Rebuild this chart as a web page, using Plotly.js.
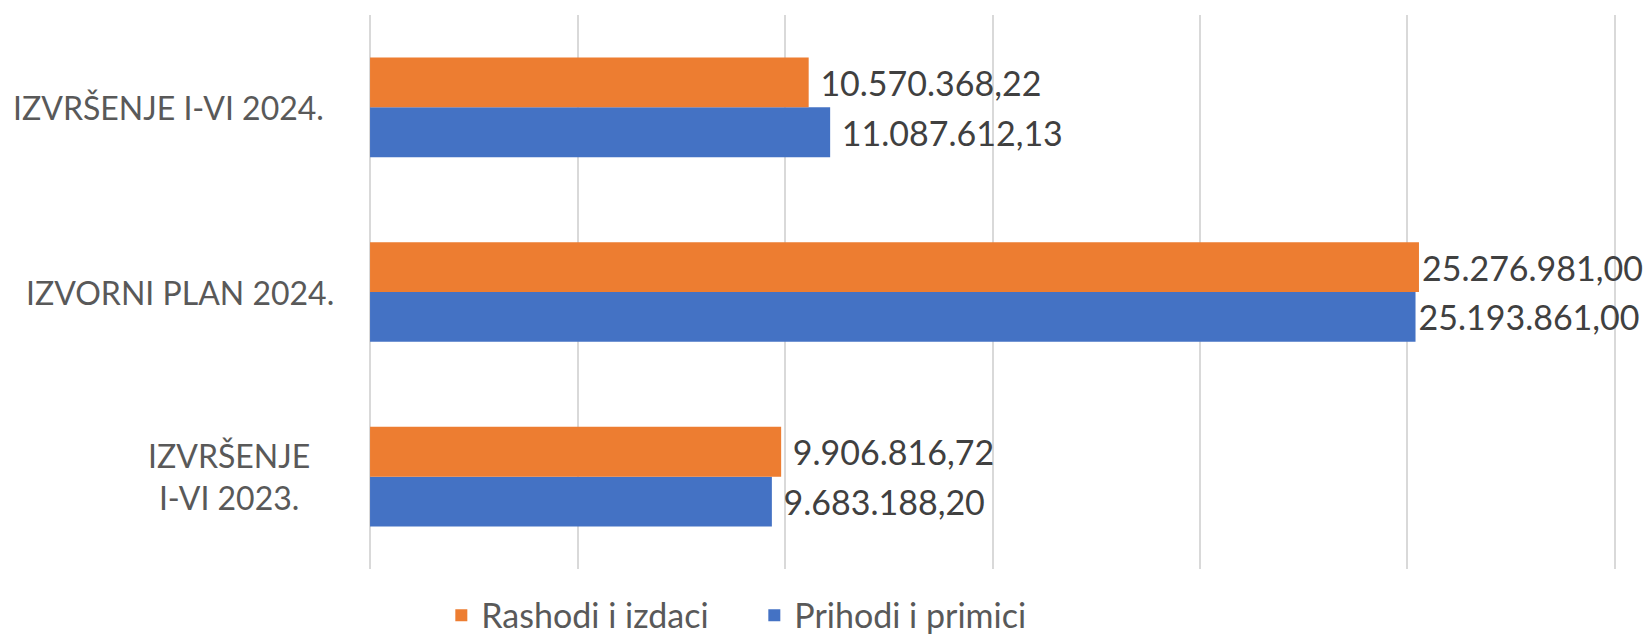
<!DOCTYPE html>
<html>
<head>
<meta charset="utf-8">
<script src="https://cdn.plot.ly/plotly-3.0.1.min.js"></script>
<style>html,body{margin:0;padding:0;background:#fff;}#chart{width:1644px;height:637px;}</style>
</head>
<body>
<div id="chart"></div>
<script>
// Categories (bottom to top as drawn)
const categories = ["IZVRŠENJE I-VI 2023.", "IZVORNI PLAN 2024.", "IZVRŠENJE I-VI 2024."];
const categoryLabels = ["IZVRŠENJE<br>I-VI 2023.", "IZVORNI PLAN 2024.", "IZVRŠENJE I-VI 2024."];
const prihodi = [9683188.20, 25193861.00, 11087612.13];
const rashodi = [9906816.72, 25276981.00, 10570368.22];
const seriesNames = ["Prihodi i primici", "Rashodi i izdaci"];

const FONT = "Lato, 'Open Sans', sans-serif";
const labelPad = [" ", "", " "];

const traces = [
  {
    type: "bar", orientation: "h", name: seriesNames[0],
    y: categories, x: prihodi,
    marker: {color: "#4472C4"},
    texttemplate: labelPad.map(p => p + "%{x:,.2f}"),
    textposition: "outside", cliponaxis: false,
    textfont: {family: FONT, size: 34, color: "#404040"},
    hoverinfo: "x"
  },
  {
    type: "bar", orientation: "h", name: seriesNames[1],
    y: categories, x: rashodi,
    marker: {color: "#ED7D31"},
    texttemplate: labelPad.map(p => p + "%{x:,.2f}"),
    textposition: "outside", cliponaxis: false,
    textfont: {family: FONT, size: 34, color: "#404040"},
    hoverinfo: "x"
  }
];

const labelX = [-0.1126, -0.1516, -0.161];
const annotations = categories.map((c, i) => ({
  xref: "paper", yref: "y", x: labelX[i], y: c,
  text: categoryLabels[i], showarrow: false,
  xanchor: "center", yanchor: "middle", align: "center",
  font: {family: FONT, size: 32, color: "#595959"}
}));

const layout = {
  width: 1644, height: 637,
  margin: {l: 369, r: 28, t: 15, b: 68, autoexpand: false},
  paper_bgcolor: "#fff", plot_bgcolor: "#fff",
  separators: ",.",
  barmode: "group", bargap: 0.46, bargroupgap: 0,
  font: {family: FONT, color: "#595959"},
  xaxis: {
    range: [-25000, 30025000], dtick: 5000000, tick0: 0,
    showticklabels: false, showgrid: true, gridcolor: "#D9D9D9", gridwidth: 2,
    zeroline: false, showline: false, fixedrange: true
  },
  yaxis: {
    type: "category", categoryorder: "array", categoryarray: categories,
    showticklabels: false, showgrid: false, zeroline: false, showline: false
  },
  showlegend: true,
  legend: {
    orientation: "h", traceorder: "reversed",
    x: 0.309, xanchor: "center", y: -0.084, yanchor: "middle",
    font: {family: FONT, size: 34, color: "#595959"},
    itemwidth: 30, entrywidth: 268, entrywidthmode: "pixels"
  },
  annotations: annotations
};

Plotly.newPlot("chart", traces, layout, {displayModeBar: false, staticPlot: true});
</script>
</body>
</html>
